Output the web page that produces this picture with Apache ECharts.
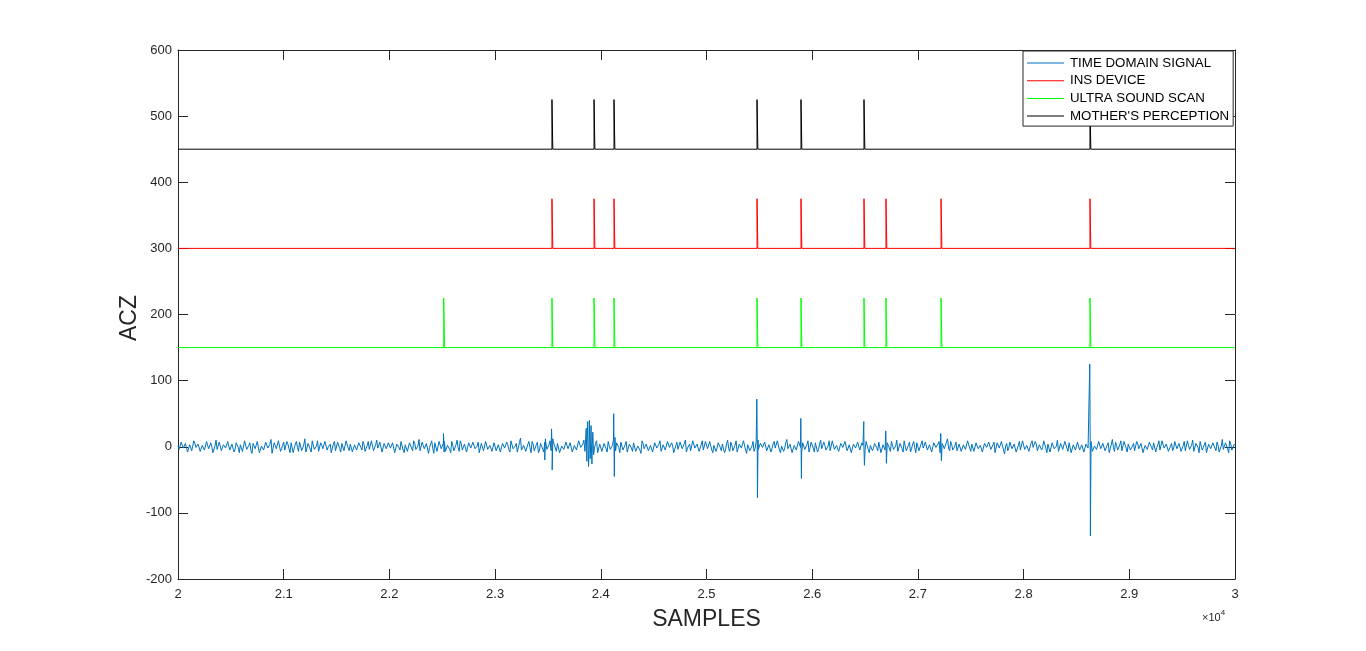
<!DOCTYPE html>
<html>
<head>
<meta charset="utf-8">
<script src="https://cdn.jsdelivr.net/npm/echarts@6/dist/echarts.min.js"></script>
<style>
html,body{margin:0;padding:0;background:#fff;}
#chart{width:1366px;height:651px;}
</style>
</head>
<body>
<div id="chart"></div>
<script>
// ---------- DATA ----------
const xTickMin = 20000, xTickMax = 30000, xTickStep = 1000;
const yTickMin = -200, yTickMax = 600, yTickStep = 100;

const legendNames = ["TIME DOMAIN SIGNAL", "INS DEVICE", "ULTRA SOUND SCAN", "MOTHER'S PERCEPTION"];

// time-domain signal: background noise, two interleaved sample sets (every 20 samples, offset 0 and 10)
const signalStart = 20000;
const signalStep = 20;
const signalNoiseA = [
 2,-5,6,-3,8,-7,1,-9,5,-2,7,-6,3,-8,9,-4,0,-6,10,-3,4,-8,6,-1,5,
 -7,3,-4,8,-9,2,-5,7,-2,6,-10,4,-3,9,-6,1,-7,5,-4,11,-8,2,-5,6,-3,
 7,-6,4,-9,3,-2,8,-7,5,-4,12,-5,1,-8,6,-3,9,-10,2,-6,7,-1,4,-7,8,
 -4,5,-8,2,-3,9,-6,4,-11,6,-2,7,-5,3,-9,8,-4,1,-7,10,-3,5,-8,4,-6,
 6,-2,9,-7,3,-5,7,-9,1,-4,8,-6,5,-3,11,-8,2,-6,6,-1,9,-10,3,-5,7,
 -3,8,-6,4,-9,2,-4,10,-7,5,-2,6,-8,3,-5,9,-4,7,-11,2,-6,8,-3,5,-7,
 4,-9,6,-1,7,-5,3,-8,9,-2,5,-7,13,-4,2,-6,8,-9,4,-3,7,-5,1,-8,6,
 -2,9,-6,3,-7,5,-10,4,-1,8,-5,6,-9,2,-4,7,-3,10,-8,5,-6,3,-2,9,-7,
 5,-4,7,-8,2,-3,11,-6,4,-9,6,-1,8,-5,3,-7,9,-4,2,-10,5,-6,7,-3,4,
 -8,6,-2,9,-5,3,-7,8,-4,1,-9,7,-3,5,-6,10,-2,4,-8,6,-5,2,-7,9,-4,
 6,-3,8,-9,4,-2,7,-6,3,-5,10,-7,2,-4,9,-8,5,-1,6,-10,3,-5,8,-2,7,
 -6,4,-3,9,-7,1,-5,8,-4,6,-9,3,-2,11,-6,5,-8,2,-3,7,-10,4,-6,9,-1,
 5,-8,3,-4,10,-6,2,-7,9,-3,6,-5,1,-9,8,-4,7,-2,4,-11,6,-3,9,-7,2,
 -5,7,-9,3,-2,8,-6,5,-10,4,-3,9,-7,2,-6,10,-4,6,-8,1,-5,7,-3,8,-9,
 3,-6,9,-4,7,-2,5,-9,6,-3,8,-7,4,-1,12,-6,3,-8,7,-4,5,-10,2,-5,9,
 -7,2,-4,8,-6,5,-9,3,-2,10,-5,7,-8,4,-3,6,-11,5,-2,9,-6,3,-7,8,-4,
 6,-5,2,-8,9,-3,4,-7,6,-1,8,-9,3,-5,7,-4,10,-6,2,-3,8,-7,5,-9,4,
 -3,9,-6,1,-8,7,-4,5,-10,3,-2,8,-6,4,-9,6,-3,11,-7,2,-5,9,-4,6,-8,
 7,-2,5,-9,4,-6,8,-3,2,-7,10,-5,6,-1,9,-8,3,-4,7,-10,5,-2,8,-6,3,
 -5,8,-7,2,-3,10,-6,4,-9,5,-1,7,-8,3,-4,9,-6,2,-7,11,-3,5,-9,4,-2,
 3
];
const signalNoiseB = [
 -4,7,-2,5,-8,3,-6,9,-1,4,-7,2,-5,8,-3,6,-9,1,-4,7,-6,3,-2,8,-5,
 4,-8,6,-1,3,-7,9,-4,2,-6,5,-3,8,-9,1,-5,7,-2,4,-10,6,-3,9,-7,2,
 -5,8,-3,6,-9,4,-1,7,-6,3,-8,5,-2,9,-4,1,-7,6,-3,8,-5,2,-9,4,-6,
 7,-3,5,-6,9,-2,4,-8,3,-5,6,-1,8,-7,2,-4,9,-6,3,-2,7,-8,5,-3,6,
 -2,6,-9,4,-1,8,-5,3,-7,6,-2,9,-4,1,-6,7,-3,5,-10,4,-2,6,-7,8,-3,
 5,-7,2,-4,8,-6,3,-1,9,-5,4,-8,6,-2,7,-3,1,-9,5,-6,8,-4,2,-7,6,
 -6,3,-8,5,-2,7,-4,9,-3,1,-8,6,-5,2,-7,4,-1,8,-6,3,-9,5,-2,7,-4,
 3,-6,8,-2,5,-9,1,-4,7,-3,6,-8,2,-5,9,-1,4,-7,3,-6,8,-2,5,-9,4,
 -7,5,-3,8,-4,2,-9,6,-1,7,-5,3,-8,4,-2,6,-7,1,-5,9,-3,4,-6,2,-8,
 6,-2,4,-7,3,-5,8,-1,6,-9,2,-4,7,-3,5,-8,1,-6,9,-2,4,-7,3,-5,8,
 -3,8,-5,2,-7,6,-1,4,-9,5,-3,7,-6,2,-8,4,-2,9,-5,3,-6,1,-7,8,-4,
 5,-1,7,-6,3,-8,4,-2,9,-5,1,-7,6,-3,4,-9,2,-5,8,-1,6,-4,3,-8,7,
 -2,6,-8,4,-3,7,-5,1,-6,9,-4,2,-7,5,-1,8,-6,3,-9,4,-2,7,-5,6,-3,
 8,-4,2,-6,5,-1,7,-9,3,-5,6,-2,8,-4,1,-7,5,-3,9,-6,2,-8,4,-1,6,
 -6,4,-2,7,-5,3,-8,6,-1,4,-9,5,-3,7,-2,8,-5,1,-6,4,-7,3,-4,9,-2,
 4,-7,6,-3,2,-8,5,-1,7,-4,3,-9,6,-2,8,-5,1,-6,7,-3,4,-8,2,-5,9,
 -4,2,-7,5,-1,8,-6,3,-5,9,-2,4,-8,6,-3,1,-7,5,-4,8,-2,6,-9,3,-5,
 7,-5,3,-8,4,-2,6,-7,1,-4,8,-3,5,-6,2,-9,4,-1,7,-5,3,-6,8,-2,4,
 -5,1,-6,8,-3,5,-9,2,-4,7,-1,6,-8,3,-5,9,-2,4,-7,1,-6,8,-3,5,-7,
 2,-6,9,-4,3,-7,5,-1,8,-5,2,-9,4,-3,6,-2,7,-8,1,-4,6,-3,9,-5,3
];
// time-domain signal: transient spikes [sample, value]
const signalSpikes = [
 [22512, 20], [22518, -8],
 [23470, -20], [23476, 12],
 [23534, 27], [23540, -35], [23546, 12],
 [23862, 28], [23868, -22], [23876, 38], [23884, -30], [23892, 40],
 [23900, -18], [23908, 32], [23916, -26], [23924, 22], [23932, -12],
 [24122, 50], [24128, -45], [24134, 14],
 [25476, 72], [25482, -77], [25488, 10],
 [25892, 43], [25898, -48],
 [26488, 38], [26494, -28],
 [26696, 24], [26702, -25],
 [27216, 20], [27222, -21],
 [28626, 125], [28632, -135], [28638, 8]
];

// event markers (sample positions)
const insEvents = [23538, 23936, 24125, 25478, 25894, 26490, 26698, 27219, 28628];
const usEvents = [22514, 23538, 23936, 24125, 25478, 25894, 26490, 26698, 27219, 28628];
const motherEvents = [23538, 23936, 24125, 25478, 25894, 26490, 28628];
const insBase = 300, usBase = 150, motherBase = 450;
const pulseHeight = 75;

// ---------- BUILD ----------
const signalData = signalNoiseA.map((v, i) => [signalStart + i * signalStep, v])
  .concat(signalNoiseB.map((v, i) => [signalStart + signalStep / 2 + i * signalStep, v]))
  .concat(signalSpikes)
  .sort((a, b) => a[0] - b[0]);

function pulseTrain(events, base) {
  const d = [[xTickMin, base]];
  events.forEach(e => {
    d.push([e, base], [e, base + pulseHeight], [e + 8, base + pulseHeight], [e + 8, base]);
  });
  d.push([xTickMax, base]);
  return d;
}

const FONT = "'Liberation Sans', Arial, Helvetica, sans-serif";
const AX = '#262626';

const chart = echarts.init(document.getElementById('chart'), null, {renderer: 'canvas'});

const lineSeries = (name, data, color, w) => ({
  name, type: 'line', data, showSymbol: false, symbol: 'none',
  lineStyle: {color, width: w}, itemStyle: {color},
  animation: false, silent: true, xAxisIndex: 0, yAxisIndex: 0
});

const axisCommon = {
  axisLine: {show: true, onZero: false, lineStyle: {color: AX, width: 1}},
  axisTick: {show: true, inside: true, length: 10, lineStyle: {color: AX}},
  splitLine: {show: false}
};

chart.setOption({
  backgroundColor: '#fff',
  animation: false,
  grid: {left: 178, right: 131, top: 50, bottom: 72, containLabel: false},
  xAxis: [Object.assign({
    type: 'value', min: xTickMin, max: xTickMax, interval: xTickStep, position: 'bottom',
    axisLabel: {color: AX, fontFamily: FONT, fontSize: 13, margin: 9,
      formatter: v => String(+(v / 10000).toFixed(1))}
  }, axisCommon), Object.assign({
    type: 'value', min: xTickMin, max: xTickMax, interval: xTickStep, position: 'top',
    axisLabel: {show: false}
  }, axisCommon)],
  yAxis: [Object.assign({
    type: 'value', min: yTickMin, max: yTickMax, interval: yTickStep, position: 'left',
    axisLabel: {color: AX, fontFamily: FONT, fontSize: 13, margin: 6}
  }, axisCommon), Object.assign({
    type: 'value', min: yTickMin, max: yTickMax, interval: yTickStep, position: 'right',
    axisLabel: {show: false}
  }, axisCommon)],
  legend: {
    orient: 'vertical', left: 1023, top: 51,
    backgroundColor: '#fff', borderColor: AX, borderWidth: 1,
    padding: [5, 4, 3, 4], itemGap: 3.7, itemWidth: 37, itemHeight: 14,
    icon: 'path://M0,6.5 L37,6.5 L37,7.5 L0,7.5 Z',
    textStyle: {fontFamily: FONT, fontSize: 13.3, color: '#000', lineHeight: 14, padding: [0, 0, 0, 1]},
    data: legendNames, selectedMode: false
  },
  series: [
    lineSeries(legendNames[0], signalData, '#0072BD', 1),
    lineSeries(legendNames[1], pulseTrain(insEvents, insBase), '#FF0000', 1),
    lineSeries(legendNames[2], pulseTrain(usEvents, usBase), '#00FF00', 1),
    lineSeries(legendNames[3], pulseTrain(motherEvents, motherBase), '#000000', 1)
  ],
  graphic: [
    {type: 'text', x: 706.5, y: 620,
      style: {text: 'SAMPLES', fontFamily: FONT, fontSize: 23, fill: AX, textAlign: 'center', textVerticalAlign: 'middle'}},
    {type: 'text', x: 130, y: 318, rotation: Math.PI / 2,
      style: {text: 'ACZ', fontFamily: FONT, fontSize: 23, fill: AX, textAlign: 'center', textVerticalAlign: 'middle'}},
    {type: 'text', x: 1202, y: 609,
      style: {rich: {a: {fontFamily: FONT, fontSize: 11, fill: AX}, b: {fontFamily: FONT, fontSize: 8, fill: AX, padding: [0,0,9,0]}},
        text: '{a|\u00d710}{b|4}', fill: AX}}
  ]
});
</script>
</body>
</html>
